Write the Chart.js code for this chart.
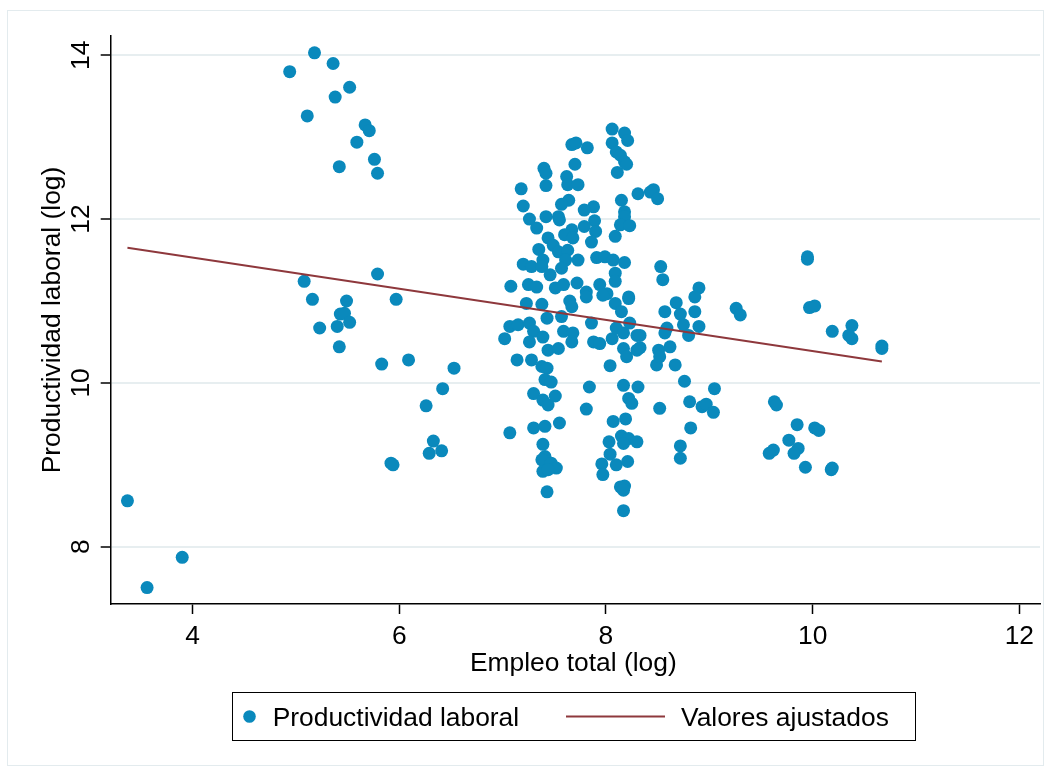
<!DOCTYPE html>
<html><head><meta charset="utf-8">
<script src="https://cdn.jsdelivr.net/npm/chart.js@4.4.1/dist/chart.umd.min.js"></script>
<style>html,body{margin:0;padding:0;background:#fff;}canvas{display:block;}</style>
</head><body>
<canvas id="c" width="1051" height="772"></canvas>
<script>
// Empleo total (log) — x values
const empleo = [
 3.37,3.56,3.90,
 5.18,5.36,4.94,5.52,5.38,5.11,5.67,5.71,5.59,5.76,5.42,5.79,
 5.08,5.79,5.16,5.49,5.97,5.43,5.47,5.52,5.23,5.40,5.42,5.83,6.09,6.53,6.42,6.26,6.33,6.29,6.41,5.92,5.94,
 8.06,8.18,8.21,8.06,7.67,7.71,7.82,8.10,8.14,8.18,8.20,8.11,7.70,7.40,7.42,7.62,7.63,7.73,7.42,7.18,
 8.31,8.46,8.43,8.50,8.15,7.64,7.57,7.20,7.88,7.79,8.18,8.18,7.26,7.42,7.54,7.55,7.89,7.33,7.67,7.79,
 7.90,8.14,8.23,8.09,7.60,7.68,7.44,7.86,7.35,7.49,7.54,7.63,7.61,7.73,7.91,7.99,8.07,8.18,7.20,7.28,
 7.39,7.38,7.57,7.46,8.09,8.09,8.53,8.55,7.08,7.25,7.33,7.51,7.59,7.72,7.81,7.94,8.01,8.22,
 7.23,7.38,7.65,7.67,7.81,7.97,8.09,8.15,8.22,8.57,7.07,7.15,7.02,7.26,7.30,7.43,7.57,7.26,7.39,7.44,
 7.54,7.59,7.68,7.67,7.86,7.88,7.94,8.06,8.10,8.17,8.23,8.30,8.17,8.20,8.30,8.51,8.49,8.59,7.14,7.28,
 7.38,7.43,7.41,7.47,8.04,7.30,7.39,7.44,7.51,7.84,8.17,8.31,8.22,8.25,7.81,8.52,
 7.07,7.30,7.41,7.55,8.07,8.19,7.39,7.41,7.38,7.47,7.52,7.39,7.44,7.43,8.03,8.15,8.22,8.30,8.17,8.04,
 7.96,7.97,8.10,8.21,8.14,8.18,8.17,8.17,
 8.90,8.86,8.68,8.72,8.86,9.26,9.30,9.95,9.95,9.97,10.02,10.19,8.75,8.90,8.80,8.57,8.33,8.33,8.62,8.52,
 8.67,8.76,9.05,8.81,8.93,8.97,9.04,8.82,8.72,8.72,9.63,9.65,9.85,10.02,10.06,9.77,9.62,9.58,9.86,9.82,
 9.93,10.18,10.19,
 10.38,10.35,10.38,10.67,10.67
];
// Productividad laboral (log) — y values
const productividad = [
 8.56,7.50,7.87,
 14.03,13.90,13.80,13.61,13.49,13.26,13.15,13.08,12.94,12.73,12.64,12.56,
 11.24,11.33,11.02,11.00,11.02,10.84,10.85,10.74,10.67,10.69,10.44,10.23,10.28,10.18,9.93,9.72,9.29,9.14,9.17,9.02,9.00,
 13.10,13.05,12.96,12.93,12.91,12.93,12.87,12.82,12.78,12.70,12.67,12.57,12.67,12.62,12.56,12.52,12.42,12.42,12.41,12.37,
 12.31,12.36,12.33,12.25,12.23,12.23,12.18,12.16,12.15,12.11,12.09,12.03,12.00,12.03,12.03,11.99,11.98,11.89,11.87,11.91,
 11.85,11.93,11.92,11.79,11.81,11.77,11.77,11.72,11.63,11.68,11.60,11.62,11.50,11.50,11.53,11.54,11.50,11.47,11.45,11.42,
 11.50,11.42,11.40,11.32,11.34,11.24,11.42,11.26,11.18,11.20,11.17,11.16,11.20,11.22,11.11,11.20,11.09,11.05,
 10.97,10.96,11.00,10.93,11.05,11.07,10.97,10.87,11.03,10.87,10.69,10.71,10.54,10.73,10.63,10.79,10.81,10.50,10.56,10.40,
 10.42,10.63,10.61,10.50,10.73,10.50,10.48,10.54,10.67,10.61,10.73,10.58,10.42,10.32,10.40,10.40,10.22,10.67,10.28,10.28,
 10.20,10.18,10.04,10.01,10.21,9.87,9.79,9.73,9.84,9.95,9.97,9.95,9.81,9.75,9.68,9.69,
 9.39,9.45,9.47,9.51,9.53,9.56,9.25,9.10,9.06,9.02,8.96,8.92,8.94,8.67,9.28,9.35,9.32,9.28,9.26,9.13,
 9.01,8.88,9.00,9.04,8.73,8.74,8.69,8.44,
 11.16,11.05,10.98,10.84,10.87,10.91,10.83,11.54,11.51,10.92,10.94,10.63,10.71,10.69,10.58,10.61,10.58,10.43,10.44,10.32,
 10.22,10.02,9.93,9.77,9.71,9.74,9.64,9.45,9.23,9.08,9.77,9.73,9.49,9.45,9.42,9.30,9.18,9.14,9.20,9.14,
 8.97,8.94,8.96,
 10.70,10.58,10.54,10.45,10.42
];
// Valores ajustados (linear fit endpoints)
const ajusteX = [3.37, 10.67];
const ajusteY = [11.65, 10.26];
const xTicks = [4, 6, 8, 10, 12];
const yTicks = [8, 10, 12, 14];
const serieNombres = ['Productividad laboral', 'Valores ajustados'];
const xTitulo = 'Empleo total (log)';
const yTitulo = 'Productividad laboral (log)';

const AZUL = '#0a89bc';
const ROJO = '#8e383c';
const FONT = '26.4px "Liberation Sans", Arial, sans-serif';

const deco = {
  id: 'deco',
  beforeDraw(chart) {
    const ctx = chart.ctx;
    ctx.save();
    ctx.fillStyle = '#fff';
    ctx.fillRect(0, 0, chart.width, chart.height);
    ctx.strokeStyle = '#e3ebee';
    ctx.lineWidth = 1;
    ctx.strokeRect(7.5, 10.5, 1036, 755);
    ctx.restore();
  },
  afterDraw(chart) {
    const ctx = chart.ctx, xs = chart.scales.x, ys = chart.scales.y, a = chart.chartArea;
    ctx.save();
    ctx.fillStyle = '#000';
    ctx.font = FONT;
    ctx.textBaseline = 'alphabetic';
    ctx.textAlign = 'center';
    xTicks.forEach(v => ctx.fillText(String(v), xs.getPixelForValue(v), a.bottom + 40));
    yTicks.forEach(v => {
      ctx.save();
      ctx.translate(a.left - 21.4, ys.getPixelForValue(v));
      ctx.rotate(-Math.PI / 2);
      ctx.fillText(String(v), 0, 0);
      ctx.restore();
    });
    ctx.fillText(xTitulo, (a.left + a.right) / 2 - 2, a.bottom + 67);
    ctx.save();
    ctx.translate(60, (a.top + a.bottom) / 2);
    ctx.rotate(-Math.PI / 2);
    ctx.fillText(yTitulo, 0, 0);
    ctx.restore();
    // legend
    const ds = chart.data.datasets;
    ctx.strokeStyle = '#000';
    ctx.lineWidth = 1;
    ctx.strokeRect(232.5, 692.5, 683, 48);
    ctx.fillStyle = ds[1].backgroundColor;
    ctx.beginPath();
    ctx.arc(249.5, 716.5, 6.3, 0, Math.PI * 2);
    ctx.fill();
    ctx.strokeStyle = ds[0].borderColor;
    ctx.lineWidth = 2;
    ctx.beginPath();
    ctx.moveTo(566, 716.5);
    ctx.lineTo(665, 716.5);
    ctx.stroke();
    ctx.fillStyle = '#000';
    ctx.textAlign = 'left';
    ctx.fillText(ds[1].label, 272.7, 726);
    ctx.fillText(ds[0].label, 681, 726);
    ctx.restore();
  }
};

new Chart(document.getElementById('c'), {
  type: 'scatter',
  data: {
    datasets: [
      {
        label: serieNombres[1],
        data: ajusteX.map((x, i) => ({ x, y: ajusteY[i] })),
        showLine: true,
        borderColor: ROJO,
        backgroundColor: ROJO,
        borderWidth: 2,
        pointRadius: 0,
        order: 0
      },
      {
        label: serieNombres[0],
        data: empleo.map((x, i) => ({ x, y: productividad[i] })),
        backgroundColor: AZUL,
        borderColor: AZUL,
        pointRadius: 6.5,
        pointBorderWidth: 0,
        order: 1
      }
    ]
  },
  options: {
    responsive: false,
    animation: false,
    events: [],
    devicePixelRatio: 1,
    layout: { padding: { left: 10.7, top: 36, right: 11, bottom: 68 } },
    plugins: { legend: { display: false }, tooltip: { enabled: false } },
    scales: {
      x: {
        type: 'linear', min: 3.208, max: 12.2,
        afterBuildTicks: s => { s.ticks = xTicks.map(v => ({ value: v })); },
        afterFit: s => { s.height = 100; },
        ticks: { color: 'rgba(0,0,0,0)', font: { size: 26 } },
        grid: { drawOnChartArea: false, tickColor: '#000', tickWidth: 1.5, tickLength: 10 },
        border: { color: '#000', width: 1.5 }
      },
      y: {
        type: 'linear', min: 7.30, max: 14.236,
        afterBuildTicks: s => { s.ticks = yTicks.map(v => ({ value: v })); },
        afterFit: s => { s.width = 100; },
        ticks: { color: 'rgba(0,0,0,0)', font: { size: 26 } },
        grid: { color: '#e7eef0', lineWidth: 2, tickColor: '#000', tickWidth: 1.5, tickLength: 10 },
        border: { color: '#000', width: 1.5 }
      }
    }
  },
  plugins: [deco]
});
</script>
</body></html>
